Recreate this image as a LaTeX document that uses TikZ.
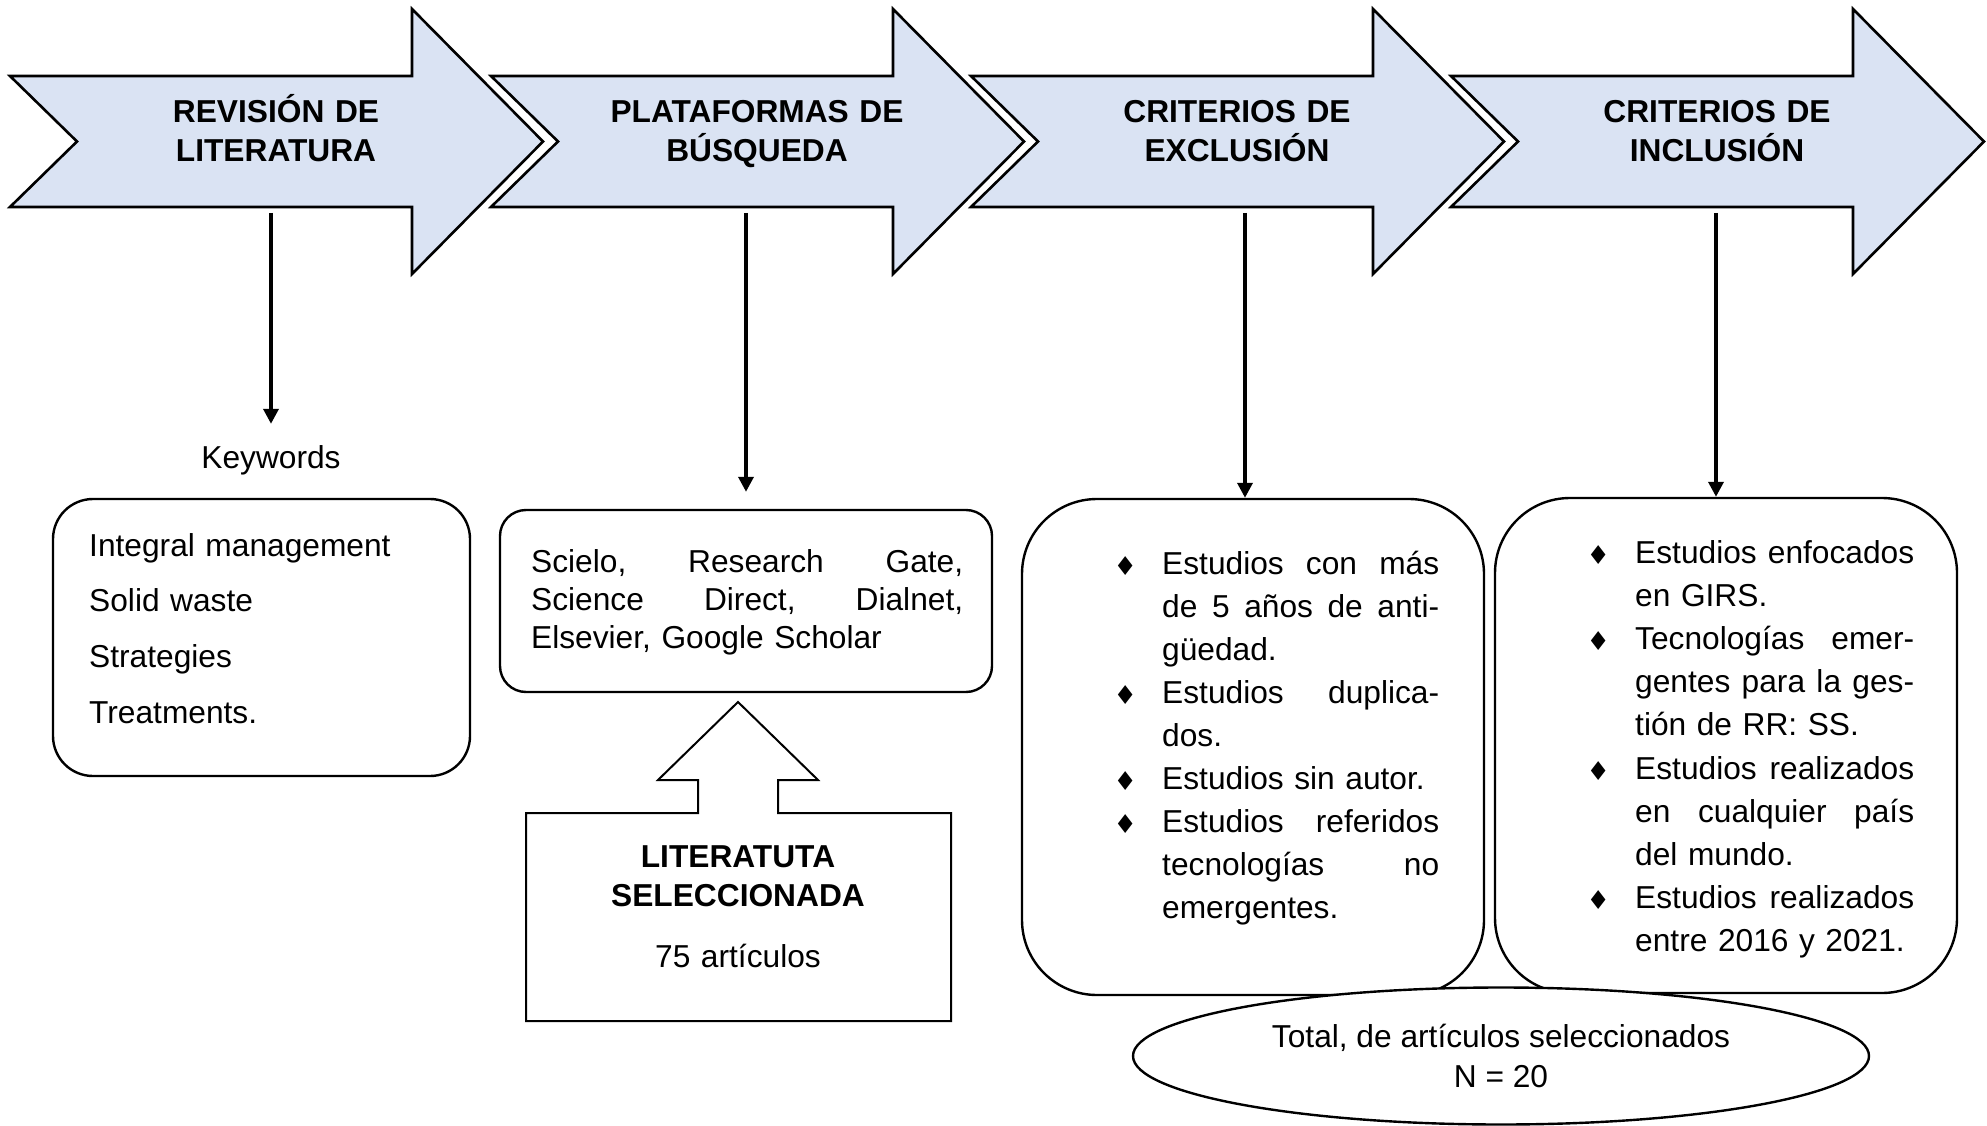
\documentclass[tikz,border=0pt]{standalone}
\usepackage{fontspec}
\setmainfont{Liberation Sans}
\newfontfamily\bulfont{DejaVu Sans}
\usetikzlibrary{arrows.meta,shapes.geometric}
\definecolor{chevronfill}{HTML}{DAE3F3}

% diamond bullet hung to the left of the first line of an item
\newcommand\itm{\leavevmode\llap{\makebox[74pt]{\raisebox{-1pt}{\fontsize{26}{26}\bulfont ♦}}}}
% a line spread to the full text width (gaps written as \hfill)
\newcommand\fl[1]{\leavevmode\hbox to\hsize{#1}}

\tikzset{
  chevron/.style={draw=black, line width=2.6pt, fill=chevronfill},
  chev/.pic={\path[chevron] (0,76) -- (402,76) -- (402,9) -- (533,141.5)
      -- (402,274) -- (402,207) -- (0,207) -- (67,141.5) -- cycle;},
  head/.style={font=\fontsize{31.7}{39}\selectfont\bfseries, text width=420pt,
      align=center, inner sep=0pt, anchor=base},
  conn/.style={line width=3.5pt, -{Triangle[width=15pt,length=15pt]}},
  card/.style={draw, line width=2.4pt, fill=white, inner sep=0pt},
  body/.style={inner sep=0pt, anchor=base west},
}

\begin{document}
\begin{tikzpicture}[x=1pt,y=-1pt]
\path[fill=white] (0,0) rectangle (1987,1126);

% process chevrons
\pic at (10,0) {chev};
\pic at (491,0) {chev};
\pic at (971,0) {chev};
\pic at (1451,0) {chev};
\node[head] (h1) at (276,123) {REVISIÓN DE\\LITERATURA};
\node[head] (h2) at (757,123) {PLATAFORMAS DE\\BÚSQUEDA};
\node[head] (h3) at (1237,123) {CRITERIOS DE\\EXCLUSIÓN};
\node[head] (h4) at (1717,123) {CRITERIOS DE\\INCLUSIÓN};

% feet of the chevrons, where the connectors leave
\coordinate (f1) at (271,213);
\coordinate (f2) at (746,213);
\coordinate (f3) at (1245,213);
\coordinate (f4) at (1716,213);

% boxes
\node[card, rounded corners=40pt, minimum width=417pt, minimum height=277pt] (kwbox) at (261.5,637.5) {};
\node[card, rounded corners=26pt, minimum width=492pt, minimum height=182pt] (platbox) at (746,601) {};
\node[card, rounded corners=75pt, minimum width=462pt, minimum height=496pt] (exclbox) at (1253,747) {};
\node[card, rounded corners=75pt, minimum width=462pt, minimum height=495pt] (inclbox) at (1726,745.5) {};

% keywords
\node[inner sep=0pt, anchor=base, font=\fontsize{31.7}{38}\selectfont] (kw) at (271,468) {Keywords};
\node[body, text width=370pt, font=\fontsize{31.7}{55.7}\selectfont] (kwtext) at (89,556)
  {Integral management\\Solid waste\\Strategies\\Treatments.};

% search platforms
\node[body, text width=432pt, font=\fontsize{31.7}{38}\selectfont] (plattext) at (531,572)
  {\fl{Scielo,\hfill Research\hfill Gate,}\\
   \fl{Science\hfill Direct,\hfill Dialnet,}\\
   Elsevier, Google Scholar};

% exclusion criteria
\node[body, text width=277pt, font=\fontsize{31.7}{43}\selectfont] (excltext) at (1162,574)
  {\itm\fl{Estudios\hfill con\hfill más}\\
   \fl{de\hfill 5\hfill años\hfill de\hfill anti-}\\
   güedad.\\
   \itm\fl{Estudios\hfill duplica-}\\
   dos.\\
   \itm Estudios sin autor.\\
   \itm\fl{Estudios\hfill referidos}\\
   \fl{tecnologías\hfill no}\\
   emergentes.};

% inclusion criteria
\node[body, text width=279pt, font=\fontsize{31.7}{43.2}\selectfont] (incltext) at (1635,563)
  {\itm\fl{Estudios\hfill enfocados}\\
   en GIRS.\\
   \itm\fl{Tecnologías\hfill emer-}\\
   \fl{gentes\hfill para\hfill la\hfill ges-}\\
   tión de RR: SS.\\
   \itm\fl{Estudios\hfill realizados}\\
   \fl{en\hfill cualquier\hfill país}\\
   del mundo.\\
   \itm\fl{Estudios\hfill realizados}\\
   entre 2016 y 2021.};

% connectors
\draw[conn] (f1) -- ([yshift=21pt]kw.north);
\draw[conn] (f2) -- ([yshift=17pt]platbox.north);
\draw[conn] (f3) -- (f3 |- exclbox.north);
\draw[conn] (f4) -- (f4 |- inclbox.north);

% up-arrow callout with the selected literature
\coordinate (uptip) at (738,702);
\draw[line width=2pt, fill=white] (526,813) -- (698,813) -- (698,780) -- (658,780) -- (uptip)
  -- (818,780) -- (778,780) -- (778,813) -- (951,813) -- (951,1021) -- (526,1021) -- cycle;
\node[inner sep=0pt, anchor=base, text width=420pt, align=center,
      font=\fontsize{31.7}{39}\selectfont] (sel) at (738,867)
  {\textbf{LITERATUTA}\\\textbf{SELECCIONADA}\\[22pt]75 artículos};

% total
\node[ellipse, draw, line width=2.4pt, fill=white, minimum width=736pt, minimum height=137pt,
      inner sep=0pt, align=center, font=\fontsize{31.7}{40}\selectfont] (total) at (1501,1056)
  {Total, de artículos seleccionados\\N = 20};
\end{tikzpicture}
\end{document}
